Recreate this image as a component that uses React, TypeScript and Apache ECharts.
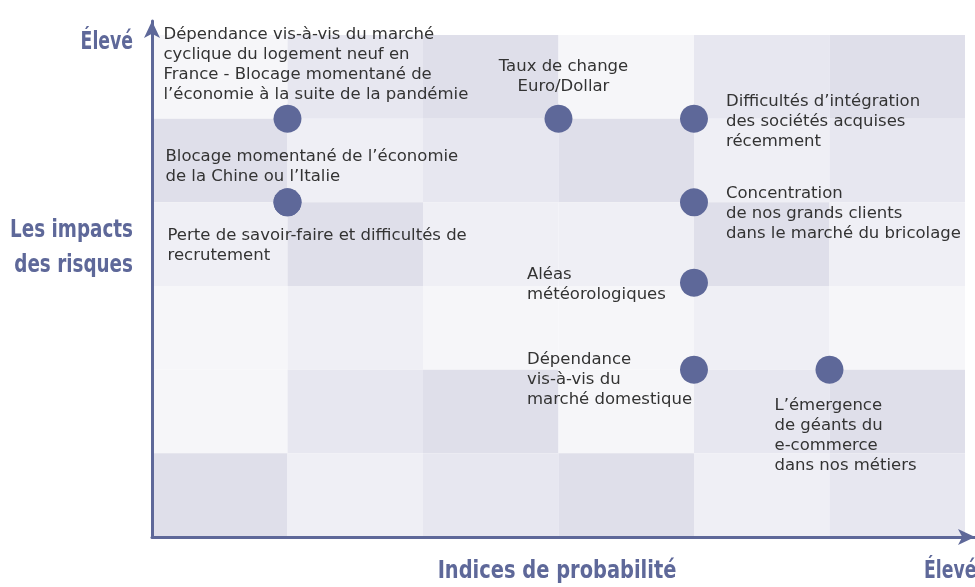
import React, { useEffect, useRef } from "react";
import * as echarts from "echarts";

// ---------- data ----------
const riskNames = [
  "Dépendance vis-à-vis du marché\ncyclique du logement neuf en\nFrance - Blocage momentané de\nl’économie à la suite de la pandémie",
  "Taux de change\nEuro/Dollar",
  "Difficultés d’intégration\ndes sociétés acquises\nrécemment",
  "Blocage momentané de l’économie\nde la Chine ou l’Italie",
  "Perte de savoir-faire et difficultés de\nrecrutement",
  "Concentration\nde nos grands clients\ndans le marché du bricolage",
  "Aléas\nmétéorologiques",
  "Dépendance\nvis-à-vis du\nmarché domestique",
  "L’émergence\nde géants du\ne-commerce\ndans nos métiers",
];
const probability = [1, 3, 4, 1, 1, 4, 4, 4, 5];
const impact = [5, 5, 5, 4, 4, 4, 3.04, 2, 2];

// background matrix shade levels, rows listed from top (impact 5..6) to bottom (0..1)
const cellShades = [
  [0, 2, 3, 0, 2, 3],
  [3, 1, 2, 3, 1, 2],
  [1, 3, 1, 1, 3, 1],
  [0, 1, 0, 0, 1, 0],
  [0, 2, 3, 0, 2, 3],
  [3, 1, 2, 3, 1, 2],
];

const yAxisTitle = ["Les impacts", "des risques"];
const xAxisTitle = "Indices de probabilité";
const highLabel = "Élevé";

// ---------- styles ----------
const shadePalette = ["#f6f6f9", "#efeff5", "#e7e7f0", "#dfdfea"];
const accent = "#5e6899";
const handFont = "'Liberation Sans Narrow', 'DejaVu Sans Condensed', sans-serif";
const labelFont = "'DejaVu Sans', sans-serif";
// label layout: [dx, dy, align] relative to the dot centre (top of text block)
const labelLayout: [number, number, string][] = [
  [-124, -95, "left"],
  [5, -63, "center"],
  [32, -28, "left"],
  [-122, -57, "left"],
  [-120, 22, "left"],
  [32, -20, "left"],
  [-167, -19, "left"],
  [-167, -21, "left"],
  [-55, 25, "left"],
];
const DOT = 28;

export default function App() {
  const ref = useRef<HTMLDivElement>(null);
  useEffect(() => {
    if (!ref.current) return;
    const chart = echarts.init(ref.current, null, { renderer: "svg" });

    const cells: number[][] = [];
    cellShades.forEach((row, r) => {
      row.forEach((s, c) => {
        cells.push([c, cellShades.length - 1 - r, s]);
      });
    });

    const points = riskNames.map((name, i) => ({
      name,
      value: [probability[i], impact[i]],
      label: {
        show: true,
        formatter: name,
        position: [labelLayout[i][0] + DOT / 2, labelLayout[i][1] + DOT / 2],
        align: labelLayout[i][2],
        verticalAlign: "top",
        fontFamily: labelFont,
        fontSize: 16.5,
        lineHeight: 20,
        color: "#333333",
      },
    }));

    const axisLine = (arrow: number[]) => ({
      show: true,
      onZero: false,
      symbol: ["none", "arrow"],
      symbolSize: arrow,
      lineStyle: { color: accent, width: 3 },
    });

    const handText = (text: string, x: number, y: number, align: string, scaleX: number) => ({
      type: "text",
      x,
      y,
      scaleX,
      z: 20,
      style: {
        text,
        fontFamily: handFont,
        fontSize: 24,
        fontWeight: "bold",
        fill: accent,
        align,
        verticalAlign: "middle",
      },
    });

    chart.setOption({
      animation: false,
      grid: { left: 152, top: 21, width: 823, height: 516 },
      xAxis: {
        type: "value",
        min: 0,
        max: 6.074,
        z: 10,
        axisLine: axisLine([12, 17]),
        axisTick: { show: false },
        axisLabel: { show: false },
        splitLine: { show: false },
      },
      yAxis: {
        type: "value",
        min: 0,
        max: 6.167,
        z: 10,
        axisLine: axisLine([12, 17]),
        axisTick: { show: false },
        axisLabel: { show: false },
        splitLine: { show: false },
      },
      series: [
        {
          type: "custom",
          z: 1,
          silent: true,
          data: cells,
          renderItem: (params: any, api: any) => {
            const x = api.value(0);
            const y = api.value(1);
            const p0 = api.coord([x, y + 1]);
            const p1 = api.coord([x + 1, y]);
            return {
              type: "rect",
              shape: { x: p0[0], y: p0[1], width: p1[0] - p0[0], height: p1[1] - p0[1] },
              style: { fill: shadePalette[api.value(2)] },
            };
          },
        },
        {
          type: "scatter",
          z: 3,
          symbolSize: DOT,
          itemStyle: { color: accent, opacity: 1 },
          data: points,
        },
      ],
      graphic: [
        handText(highLabel, 133, 41, "right", 0.8),
        handText(yAxisTitle[0], 133, 228, "right", 0.85),
        handText(yAxisTitle[1], 133, 263, "right", 0.85),
        handText(xAxisTitle, 557, 570, "center", 0.9),
        handText(highLabel, 924, 570, "left", 0.8),
      ],
    });
    return () => chart.dispose();
  }, []);

  return (
    <div
      ref={ref}
      style={{ position: "fixed", left: 0, top: 0, width: 975, height: 587 }}
    />
  );
}
